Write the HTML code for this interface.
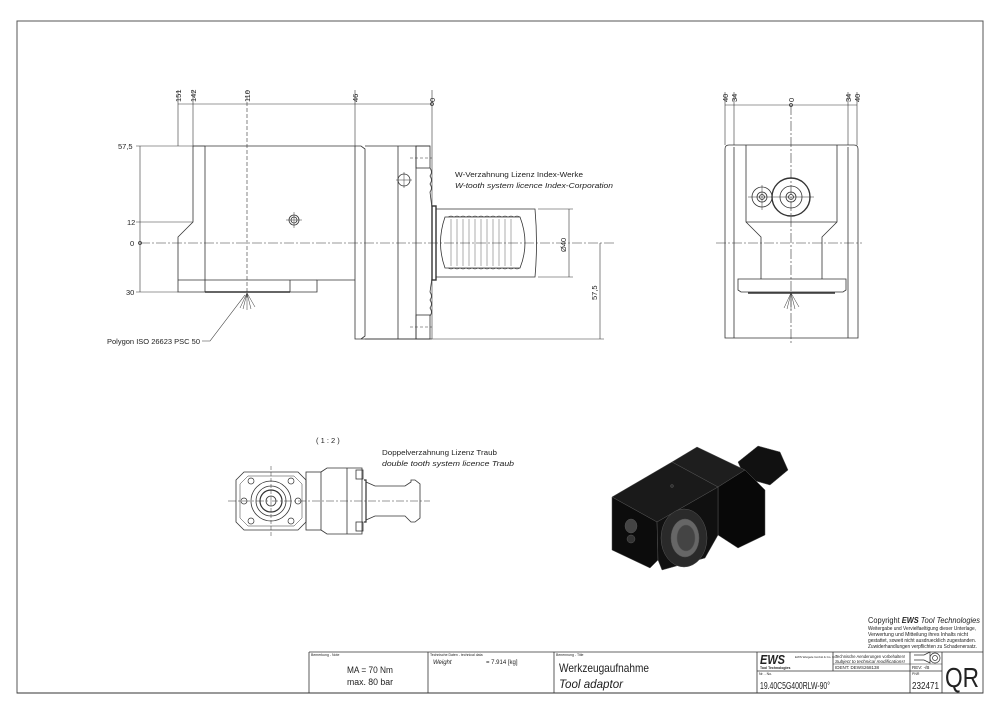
<!DOCTYPE html>
<html><head><meta charset="utf-8"><style>
html,body{margin:0;padding:0;background:#fff;}
svg{display:block;}
text{font-family:"Liberation Sans",sans-serif;fill:#222;}
.m{font-family:"DejaVu Sans Condensed","DejaVu Sans","Liberation Sans",sans-serif;}
</style></head><body>
<svg width="1000" height="715" viewBox="0 0 1000 715" xmlns="http://www.w3.org/2000/svg">
<g fill="none" stroke="#333" stroke-width="0.8">
<rect x="17" y="21" width="966" height="672" stroke="#555" stroke-width="1"/>

<line x1="178" y1="104" x2="432" y2="104" stroke-width="0.6"/>
<line x1="178" y1="90" x2="178" y2="146" stroke-width="0.6"/>
<line x1="193" y1="90" x2="193" y2="146" stroke-width="0.6"/>
<line x1="247" y1="90" x2="247" y2="300" stroke-width="0.6" stroke-dasharray="4,2"/>
<line x1="355" y1="90" x2="355" y2="146" stroke-width="0.6"/>
<line x1="432" y1="90" x2="432" y2="339" stroke-width="0.6"/>
<circle cx="432" cy="104" r="1.5"/>
<line x1="140" y1="146" x2="140" y2="292" stroke-width="0.6"/>
<line x1="136" y1="146" x2="205" y2="146" stroke-width="0.6"/>
<line x1="136" y1="222" x2="193" y2="222" stroke-width="0.6"/>
<line x1="136" y1="292" x2="178" y2="292" stroke-width="0.6"/>
<circle cx="140" cy="243" r="1.5"/>
<line x1="140" y1="243" x2="615" y2="243" stroke-width="0.6" stroke-dasharray="10,2,2,2"/>
<path d="M193 146 L355 146 L355 339 L432 339 M193 146 L193 222 L178 237 L178 292 L317 292 L317 280 L355 280"/>
<line x1="205" y1="146" x2="205" y2="292"/>
<line x1="178" y1="280" x2="317" y2="280"/>
<line x1="205" y1="292" x2="290" y2="292" stroke-width="1.6"/>
<line x1="290" y1="280" x2="290" y2="292"/>
<path d="M355 146 L361 146 L365 149 L365 336 L361 339"/>
<line x1="398" y1="146" x2="398" y2="339"/>
<line x1="416" y1="146" x2="416" y2="339"/>
<rect x="416" y="146" width="14" height="22"/>
<rect x="416" y="315" width="14" height="24"/>
<line x1="410" y1="158" x2="432" y2="158" stroke-dasharray="3,2" stroke-width="0.5"/>
<line x1="410" y1="327" x2="432" y2="327" stroke-dasharray="3,2" stroke-width="0.5"/>
<line x1="365" y1="146" x2="430" y2="146"/>
<line x1="365" y1="339" x2="430" y2="339"/>
<path d="M430 168 q3 4 0 8 q3 4 0 8 q3 4 0 8 L432 208 L432 278 L430 292 q3 4 0 8 q3 4 0 8 q3 4 0 8"/>
<circle cx="404" cy="180" r="6"/>
<line x1="396" y1="180" x2="412" y2="180" stroke-width="0.5"/>
<line x1="404" y1="172" x2="404" y2="188" stroke-width="0.5"/>
<circle cx="294" cy="220" r="5"/><circle cx="294" cy="220" r="3"/>
<line x1="286" y1="220" x2="302" y2="220" stroke-width="0.5"/>
<line x1="294" y1="212" x2="294" y2="228" stroke-width="0.5"/>
<rect x="432" y="206" width="4" height="74" stroke-width="1.4"/>
<path d="M436 209 L535 209 Q538 243 535 277 L436 277 Z"/>
<path d="M445 217 L520 217 Q530 243 520 268 L445 268 Q436 243 445 217 Z"/>
<path d="M448 217 q3 -2 6 0 q3 -2 6 0 q3 -2 6 0 q3 -2 6 0 q3 -2 6 0 q3 -2 6 0 q3 -2 6 0 q3 -2 6 0 q3 -2 6 0 q3 -2 6 0 q3 -2 6 0 q3 -2 6 0" stroke-width="0.5"/>
<path d="M448 268 q3 2 6 0 q3 2 6 0 q3 2 6 0 q3 2 6 0 q3 2 6 0 q3 2 6 0 q3 2 6 0 q3 2 6 0 q3 2 6 0 q3 2 6 0 q3 2 6 0 q3 2 6 0" stroke-width="0.5"/>
<g stroke-width="0.4"><line x1="451" y1="219" x2="451" y2="266"/><line x1="457" y1="219" x2="457" y2="266"/><line x1="463" y1="219" x2="463" y2="266"/><line x1="469" y1="219" x2="469" y2="266"/><line x1="475" y1="219" x2="475" y2="266"/><line x1="481" y1="219" x2="481" y2="266"/><line x1="487" y1="219" x2="487" y2="266"/><line x1="493" y1="219" x2="493" y2="266"/><line x1="499" y1="219" x2="499" y2="266"/><line x1="505" y1="219" x2="505" y2="266"/><line x1="511" y1="219" x2="511" y2="266"/></g>
<line x1="538" y1="209" x2="573" y2="209" stroke-width="0.6"/>
<line x1="538" y1="277" x2="573" y2="277" stroke-width="0.6"/>
<line x1="569" y1="209" x2="569" y2="277" stroke-width="0.6"/>
<line x1="432" y1="339" x2="604" y2="339" stroke-width="0.6"/>
<line x1="600" y1="243" x2="600" y2="339" stroke-width="0.6"/>
<polyline points="202,341 210,341 245,295" stroke-width="0.6"/>
<g stroke-width="0.5"><line x1="247" y1="293" x2="240" y2="308"/><line x1="247" y1="293" x2="243" y2="309"/><line x1="247" y1="293" x2="247" y2="310"/><line x1="247" y1="293" x2="251" y2="309"/><line x1="247" y1="293" x2="255" y2="307"/></g>

<line x1="725" y1="105" x2="857" y2="105" stroke-width="0.6"/>
<line x1="725" y1="92" x2="725" y2="145" stroke-width="0.6"/>
<line x1="734" y1="92" x2="734" y2="145" stroke-width="0.6"/>
<line x1="848" y1="92" x2="848" y2="145" stroke-width="0.6"/>
<line x1="857" y1="92" x2="857" y2="145" stroke-width="0.6"/>
<circle cx="791" cy="105" r="1.5"/>
<line x1="791" y1="105" x2="791" y2="345" stroke-width="0.6" stroke-dasharray="10,2,2,2"/>
<path d="M725 149 Q725 145 729 145 L854 145 Q858 145 858 149 L858 338 L725 338 Z"/>
<line x1="734" y1="147" x2="734" y2="338"/>
<line x1="848" y1="147" x2="848" y2="338"/>
<path d="M746 145 L746 222 L761 237 L761 279 M837 145 L837 222 L822 237 L822 279"/>
<line x1="746" y1="222" x2="837" y2="222"/>
<path d="M738 279 L846 279 L846 290 L843 292 L741 292 L738 290 Z"/>
<line x1="748" y1="293" x2="835" y2="293" stroke-width="1.4"/>
<line x1="716" y1="243" x2="862" y2="243" stroke-width="0.6" stroke-dasharray="10,2,2,2"/>
<circle cx="791" cy="197" r="19" stroke-width="1.4"/>
<circle cx="791" cy="197" r="11"/><circle cx="791" cy="197" r="5"/><circle cx="791" cy="197" r="2.5"/>
<circle cx="762" cy="197" r="10"/><circle cx="762" cy="197" r="5"/><circle cx="762" cy="197" r="2.5"/>
<line x1="748" y1="197" x2="814" y2="197" stroke-width="0.5"/>
<line x1="762" y1="185" x2="762" y2="210" stroke-width="0.5"/>
<g stroke-width="0.5"><line x1="791" y1="293" x2="784" y2="308"/><line x1="791" y1="293" x2="787" y2="309"/><line x1="791" y1="293" x2="791" y2="310"/><line x1="791" y1="293" x2="795" y2="309"/><line x1="791" y1="293" x2="799" y2="307"/></g>

<path d="M244 472 L298 472 L306 480 L306 522 L298 530 L244 530 L236 522 L236 480 Z"/>
<path d="M248 476 L294 476 L302 484 L302 518 L294 526 L248 526 L240 518 L240 484 Z" stroke-width="0.5"/>
<circle cx="271" cy="501" r="20"/><circle cx="271" cy="501" r="15"/><circle cx="271" cy="501" r="11" stroke-width="1.2"/><circle cx="271" cy="501" r="5"/>
<g stroke-width="0.7"><circle cx="251" cy="481" r="3"/><circle cx="291" cy="481" r="3"/><circle cx="251" cy="521" r="3"/><circle cx="291" cy="521" r="3"/><circle cx="244" cy="501" r="3"/><circle cx="298" cy="501" r="3"/></g>
<rect x="306" y="472" width="15" height="58"/>
<path d="M321 472 L327 468 L362 468 L362 534 L327 534 L321 530"/>
<line x1="347" y1="468" x2="347" y2="534"/>
<rect x="356" y="470" width="7" height="9"/><rect x="356" y="522" width="7" height="9"/>
<path d="M364 480 L366 480 L366 522 L364 522" stroke-width="1.2"/>
<path d="M366 482 L375 486 L405 486 L411 482 L411 480 L415 480 L420 484 L420 518 L415 522 L411 522 L405 516 L375 516 L366 520"/>
<line x1="228" y1="501" x2="430" y2="501" stroke-width="0.5" stroke-dasharray="8,2,2,2"/>
<line x1="271" y1="466" x2="271" y2="538" stroke-width="0.5" stroke-dasharray="4,2"/>

<line x1="309" y1="652" x2="983" y2="652"/>
<line x1="309" y1="652" x2="309" y2="693"/>
<line x1="428" y1="652" x2="428" y2="693"/>
<line x1="554" y1="652" x2="554" y2="693"/>
<line x1="757" y1="652" x2="757" y2="693"/>
<line x1="833" y1="652" x2="833" y2="671"/>
<line x1="910" y1="652" x2="910" y2="693"/>
<line x1="942" y1="652" x2="942" y2="693"/>
<line x1="757" y1="671" x2="942" y2="671"/>
<line x1="833" y1="664" x2="942" y2="664" stroke-width="0.5"/>
<line x1="17" y1="693" x2="983" y2="693" stroke-width="1"/>
<path d="M914 655 L924 655 L930 652 L930 663 L924 660 L914 660" stroke-width="0.7"/>
<circle cx="935" cy="658" r="5" stroke-width="0.7"/><circle cx="935" cy="658" r="2.5" stroke-width="0.7"/>
</g>

<g stroke="#555" stroke-width="0.5">
<polygon points="738,462 758,446 780,452 788,470 770,485 745,478" fill="#111"/>
<polygon points="672,462 697,447 745,470 718,487" fill="#1e1e1e"/>
<polygon points="718,487 745,470 765,490 765,535 738,548 718,535" fill="#080808"/>
<polygon points="612,497 672,462 718,487 657,522" fill="#1a1a1a"/>
<polygon points="612,497 657,522 658,560 650,568 612,550" fill="#0c0c0c"/>
<polygon points="657,522 718,487 718,535 705,558 662,570 658,560" fill="#101010"/>
<ellipse cx="684" cy="538" rx="23" ry="29" fill="#2a2a2a"/>
<ellipse cx="685" cy="538" rx="14" ry="19" fill="#666"/>
<ellipse cx="686" cy="538" rx="9" ry="13" fill="#444"/>
<ellipse cx="631" cy="526" rx="6" ry="7" fill="#444"/>
<ellipse cx="631" cy="539" rx="4" ry="4" fill="#333"/>
<circle cx="672" cy="486" r="1.5" fill="#333"/>
</g>

<g class="m" font-size="7.5">
<text transform="translate(181,102) rotate(-90)">151</text>
<text transform="translate(196,102) rotate(-90)">142</text>
<text transform="translate(250,102) rotate(-90)">110</text>
<text transform="translate(358,102) rotate(-90)">46</text>
<text transform="translate(435,102) rotate(-90)">0</text>
<text x="118" y="149">57,5</text>
<text x="127" y="225">12</text>
<text x="130" y="246">0</text>
<text x="126" y="295">30</text>
<text transform="translate(566,252) rotate(-90)">Ø40</text>
<text transform="translate(597,300) rotate(-90)">57,5</text>
<text x="107" y="344" textLength="93" lengthAdjust="spacingAndGlyphs">Polygon ISO 26623 PSC 50</text>
<text x="455" y="177" textLength="128" lengthAdjust="spacingAndGlyphs">W-Verzahnung Lizenz Index-Werke</text>
<text x="455" y="188" font-style="italic" textLength="158" lengthAdjust="spacingAndGlyphs">W-tooth system licence Index-Corporation</text>
<text transform="translate(728,102) rotate(-90)">40</text>
<text transform="translate(737,102) rotate(-90)">34</text>
<text transform="translate(794,102) rotate(-90)">0</text>
<text transform="translate(851,102) rotate(-90)">34</text>
<text transform="translate(860,102) rotate(-90)">40</text>
<text x="316" y="443">( 1 : 2 )</text>
<text x="382" y="455" textLength="115" lengthAdjust="spacingAndGlyphs">Doppelverzahnung Lizenz Traub</text>
<text x="382" y="466" font-style="italic" textLength="132" lengthAdjust="spacingAndGlyphs">double tooth system licence Traub</text>
</g>
<g font-size="3.5">
<text x="311" y="656">Bemerkung - Note</text>
<text x="430" y="656">Technische Daten - technical data</text>
<text x="556" y="656">Benennung - Title</text>
<text x="759" y="675">Nr. - No.</text>
<text x="912" y="675">PNR</text>
</g>
<g class="m">
<text x="347" y="673" font-size="9" textLength="46" lengthAdjust="spacingAndGlyphs">MA = 70 Nm</text>
<text x="347" y="685" font-size="9" textLength="46" lengthAdjust="spacingAndGlyphs">max. 80 bar</text>
<text x="433" y="664" font-size="6" font-style="italic">Weight</text>
<text x="486" y="664" font-size="6">= 7.914 [kg]</text>
<text x="559" y="672" font-size="12" textLength="90" lengthAdjust="spacingAndGlyphs">Werkzeugaufnahme</text>
<text x="559" y="688" font-size="12" font-style="italic" textLength="64" lengthAdjust="spacingAndGlyphs">Tool adaptor</text>
<text x="760" y="689" font-size="10" textLength="70" lengthAdjust="spacingAndGlyphs">19.40C5G400RLW-90°</text>
<text x="912" y="689" font-size="10" textLength="27" lengthAdjust="spacingAndGlyphs">232471</text>
<text x="835" y="658" font-size="4.5" textLength="70" lengthAdjust="spacingAndGlyphs">Technische Aenderungen vorbehalten!</text>
<text x="835" y="663" font-size="4.5" font-style="italic" textLength="70" lengthAdjust="spacingAndGlyphs">Subject to technical modifications!</text>
<text x="835" y="669" font-size="4.5">IDENT: DEWS268138</text>
<text x="912" y="669" font-size="4.5">REV: -/B</text>
</g>
<text x="760" y="664" font-size="13" font-weight="bold" font-style="italic" textLength="25" lengthAdjust="spacingAndGlyphs">EWS</text>
<text x="760" y="669" font-size="3.5" font-weight="bold">Tool Technologies</text>
<text x="795" y="658" font-size="3">EWS Weigele GmbH &amp; Co. KG</text>
<text x="945" y="687" font-size="28" textLength="34" lengthAdjust="spacingAndGlyphs">QR</text>
<text x="868" y="623" font-size="8" textLength="112" lengthAdjust="spacingAndGlyphs">Copyright <tspan font-weight="bold" font-style="italic">EWS</tspan> <tspan font-style="italic">Tool Technologies</tspan></text>
<g font-size="5.3">
<text x="868" y="630" textLength="108" lengthAdjust="spacingAndGlyphs">Weitergabe und Vervielfaeltigung dieser Unterlage,</text>
<text x="868" y="636" textLength="100" lengthAdjust="spacingAndGlyphs">Verwertung und Mitteilung ihres Inhalts nicht</text>
<text x="868" y="642" textLength="108" lengthAdjust="spacingAndGlyphs">gestattet, soweit nicht ausdruecklich zugestanden.</text>
<text x="868" y="648" textLength="109" lengthAdjust="spacingAndGlyphs">Zuwiderhandlungen verpflichten zu Schadenersatz.</text>
</g>
</svg>
</body></html>
